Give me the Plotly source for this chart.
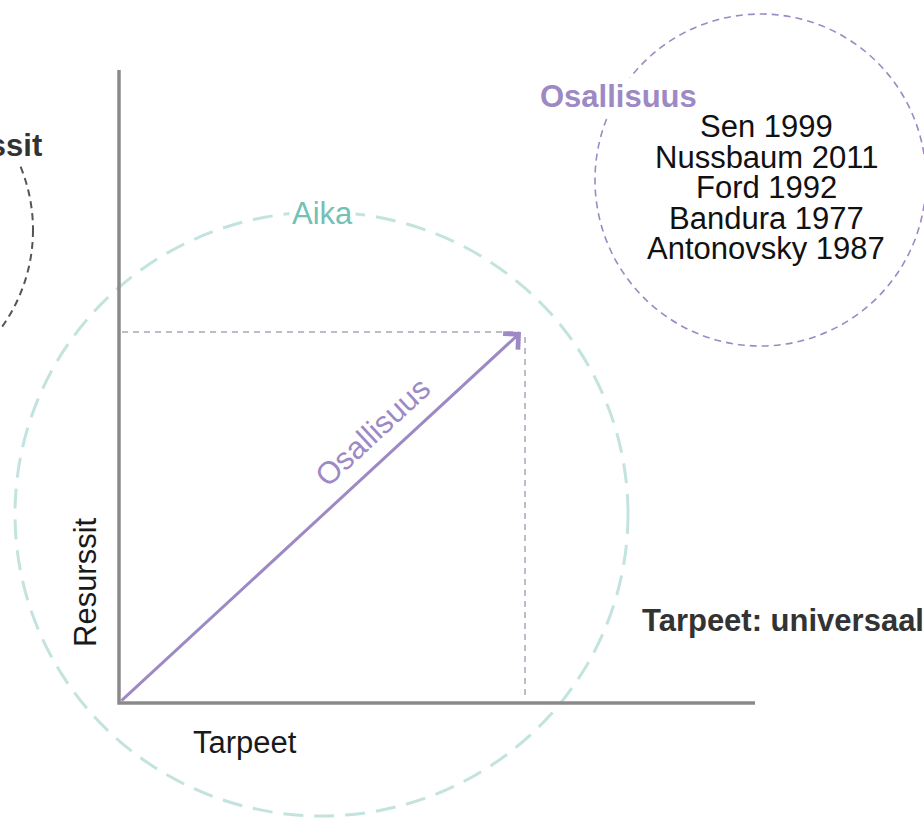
import plotly.graph_objects as go

# ---- Diagram data (canvas units: 924 x 824, y grows downward) ----
axis_x = [119, 119, 755]          # y-axis top -> origin -> x-axis end
axis_y = [70, 703, 703]
arrow_from = [120, 702]           # origin
arrow_to = [521, 332]             # Osallisuus point (Tarpeet, Resurssit)
guide_h_x = [122, 519]
guide_h_y = [332, 332]
guide_v_x = [525, 525]
guide_v_y = [337, 700]

aika_circle = [15, 212, 628, 816]      # x0, y0, x1, y1
osall_circle = [595, 14, 926, 346]
resurssit_circle = [-301, 63, 33, 397]

references = ["Sen 1999", "Nussbaum 2011", "Ford 1992", "Bandura 1977", "Antonovsky 1987"]
ref_y = [126, 157, 187, 218, 248]
ref_x = 766

PURPLE = "#9d89c4"
TEAL_LINE = "#c2e3de"
TEAL_TEXT = "#72c0b6"
AXIS = "#8a8a8a"
GUIDE = "#aaa6b8"
FONT = "Liberation Sans, Arial, sans-serif"
FS = 31

fig = go.Figure()

# axes of the diagram
fig.add_trace(go.Scatter(x=axis_x, y=axis_y, mode="lines",
                         line=dict(color=AXIS, width=3.5), hoverinfo="skip"))
# dashed guides
fig.add_trace(go.Scatter(x=guide_h_x, y=guide_h_y, mode="lines",
                         line=dict(color=GUIDE, width=1.5, dash="6px,5px"), hoverinfo="skip"))
fig.add_trace(go.Scatter(x=guide_v_x, y=guide_v_y, mode="lines",
                         line=dict(color=GUIDE, width=1.5, dash="6px,5px"), hoverinfo="skip"))

shapes = [
    dict(type="circle", xref="x", yref="y",
         x0=aika_circle[0], y0=aika_circle[1], x1=aika_circle[2], y1=aika_circle[3],
         line=dict(color=TEAL_LINE, width=3, dash="20px,11px"), layer="below"),
    dict(type="circle", xref="x", yref="y",
         x0=osall_circle[0], y0=osall_circle[1], x1=osall_circle[2], y1=osall_circle[3],
         line=dict(color=PURPLE, width=1.6, dash="7px,5px"), layer="below"),
    dict(type="circle", xref="x", yref="y",
         x0=resurssit_circle[0], y0=resurssit_circle[1], x1=resurssit_circle[2], y1=resurssit_circle[3],
         line=dict(color="#555555", width=2, dash="7px,5px"), layer="below"),
]

annotations = [
    # arrow
    dict(x=arrow_to[0], y=arrow_to[1], ax=arrow_from[0], ay=arrow_from[1],
         xref="x", yref="y", axref="x", ayref="y", text="", showarrow=True,
         arrowhead=4, arrowsize=1.4, arrowwidth=3, arrowcolor=PURPLE, standoff=0),
    dict(x=372, y=432, xref="x", yref="y", text="Osallisuus", showarrow=False,
         textangle=-42.8, font=dict(family=FONT, size=FS, color=PURPLE)),
    dict(x=322, y=213, xref="x", yref="y", text="Aika", showarrow=False,
         bgcolor="white", borderpad=2, font=dict(family=FONT, size=FS, color=TEAL_TEXT)),
    dict(x=618, y=96, xref="x", yref="y", text="<b>Osallisuus</b>", showarrow=False,
         bgcolor="white", borderpad=1, font=dict(family=FONT, size=FS, color=PURPLE)),
    dict(x=44, y=145, xref="x", yref="y", text="<b>Resurssit</b>", showarrow=False,
         xanchor="right", bgcolor="white", borderpad=1,
         font=dict(family=FONT, size=FS, color="#333333")),
    dict(x=85, y=582, xref="x", yref="y", text="Resurssit", showarrow=False,
         textangle=-90, font=dict(family=FONT, size=FS, color="#1a1a1a")),
    dict(x=245, y=742, xref="x", yref="y", text="Tarpeet", showarrow=False,
         font=dict(family=FONT, size=FS, color="#1a1a1a")),
    dict(x=640, y=620, xref="x", yref="y", text="<b>Tarpeet: universaal</b>", showarrow=False,
         xanchor="left", font=dict(family=FONT, size=FS, color="#333333")),
]
for label, yy in zip(references, ref_y):
    annotations.append(dict(x=ref_x, y=yy, xref="x", yref="y", text=label, showarrow=False,
                            font=dict(family=FONT, size=FS, color="#111111")))

fig.update_layout(
    width=924, height=824,
    margin=dict(l=0, r=0, t=0, b=0),
    paper_bgcolor="white", plot_bgcolor="white",
    showlegend=False,
    xaxis=dict(range=[0, 924], visible=False, fixedrange=True),
    yaxis=dict(range=[824, 0], visible=False, fixedrange=True),
    shapes=shapes,
    annotations=annotations,
)

fig.write_html("out.html", config={"displayModeBar": False},
               post_script="document.body.style.margin='0';")
